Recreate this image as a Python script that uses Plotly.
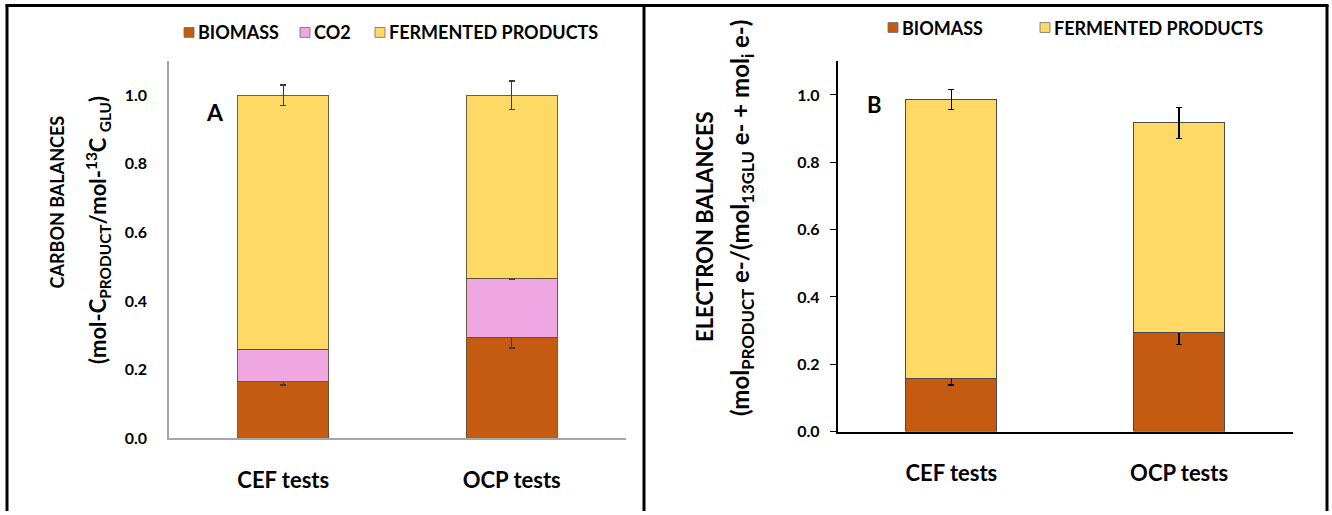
import plotly.graph_objects as go

W, H = 1332, 515

categories = ["CEF tests", "OCP tests"]

# Panel A: carbon balances (stacked segments) and their standard deviations
carbon_biomass = [0.165, 0.294]
carbon_biomass_err = [0.010, 0.031]
carbon_co2 = [0.095, 0.172]
carbon_co2_err = [0.002, 0.002]
carbon_fermented = [0.740, 0.534]
carbon_fermented_err = [0.030, 0.041]

# Panel B: electron balances
electron_biomass = [0.159, 0.295]
electron_biomass_err = [0.020, 0.036]
electron_fermented = [0.828, 0.622]
electron_fermented_err = [0.030, 0.046]

y_ticks = [0.0, 0.2, 0.4, 0.6, 0.8, 1.0]

C_BIOMASS = "#C55A11"
C_CO2 = "#EFA7E2"
C_FERM = "#FFD966"
FONT = "Lato"


def px_x(x):
    return x / W


def px_y(y):
    return 1 - y / H


fig = go.Figure()


def add_bar(name, vals, errs, color, xa, ya, edge, errcolor):
    fig.add_trace(go.Bar(
        x=categories, y=vals, name=name, xaxis=xa, yaxis=ya,
        marker=dict(color=color, line=dict(color=edge, width=1)),
        width=0.4, showlegend=False,
        error_y=dict(type="data", array=errs, visible=True,
                     color=errcolor, thickness=1.4, width=3),
    ))


edge_a = "rgba(95,80,55,0.9)"
err_a = "#3a3a3a"
add_bar("BIOMASS", carbon_biomass, carbon_biomass_err, C_BIOMASS, "x", "y", edge_a, err_a)
add_bar("CO2", carbon_co2, carbon_co2_err, C_CO2, "x", "y", edge_a, err_a)
add_bar("FERMENTED PRODUCTS", carbon_fermented, carbon_fermented_err, C_FERM, "x", "y", edge_a, err_a)

edge_b = "#4a4a4a"
add_bar("BIOMASS", electron_biomass, electron_biomass_err, C_BIOMASS, "x2", "y2", edge_b, "#000000")
add_bar("FERMENTED PRODUCTS", electron_fermented, electron_fermented_err, C_FERM, "x2", "y2", edge_b, "#000000")

tick_font = dict(family=FONT, size=16, color="#000000", weight="bold")
cat_font = dict(family=FONT, size=22, color="#000000", weight="bold")

fig.update_layout(
    width=W, height=H, margin=dict(l=0, r=0, t=0, b=0),
    paper_bgcolor="white", plot_bgcolor="white",
    barmode="stack", showlegend=False,
    xaxis=dict(domain=[px_x(169), px_x(626)], range=[-0.5, 1.5], anchor="y",
               showline=True, linecolor="#A6A6A6", linewidth=1.5, ticks="",
               showgrid=False, zeroline=False, tickfont=cat_font, ticklabelstandoff=22),
    yaxis=dict(domain=[px_y(446), px_y(62)], range=[0, 1.1], anchor="x",
               showline=True, linecolor="#A6A6A6", linewidth=1.5, ticks="",
               tickvals=y_ticks, tickformat=".1f", showgrid=False, zeroline=False,
               tickfont=tick_font, ticklabelstandoff=17),
    xaxis2=dict(domain=[px_x(837.5), px_x(1293)], range=[-0.5, 1.5], anchor="y2",
                showline=True, linecolor="#000000", linewidth=1.5, ticks="",
                showgrid=False, zeroline=False, tickfont=cat_font, ticklabelstandoff=21),
    yaxis2=dict(domain=[px_y(439.3), px_y(62.4)], range=[0, 1.1], anchor="x2",
                showline=True, linecolor="#000000", linewidth=1.5,
                ticks="outside", ticklen=6, tickcolor="#000000", tickwidth=1.2,
                tickvals=y_ticks, tickformat=".1f", showgrid=False, zeroline=False,
                tickfont=tick_font, ticklabelstandoff=7),
)

# Panel frames
frame = dict(type="line", xref="paper", yref="paper", line=dict(color="black", width=3))
shapes = [
    dict(frame, x0=px_x(7), x1=px_x(7), y0=px_y(5), y1=px_y(520)),
    dict(frame, x0=px_x(644), x1=px_x(644), y0=px_y(5), y1=px_y(520)),
    dict(frame, x0=px_x(1327), x1=px_x(1327), y0=px_y(5), y1=px_y(520)),
    dict(frame, x0=px_x(5.5), x1=px_x(1328.5), y0=px_y(5.5), y1=px_y(5.5)),
]

annotations = []


def legend_item(x_swatch, y_center, color, label):
    shapes.append(dict(type="rect", xref="paper", yref="paper",
                       x0=px_x(x_swatch), x1=px_x(x_swatch + 10),
                       y0=px_y(y_center + 5), y1=px_y(y_center - 5),
                       fillcolor=color, line=dict(color="#6b6b6b", width=0.8)))
    annotations.append(dict(x=px_x(x_swatch + 12), y=px_y(y_center), xref="paper", yref="paper",
                            text=label, showarrow=False, xanchor="left", yanchor="middle",
                            font=dict(family=FONT, size=18, color="#000000", weight="bold")))


legend_item(184, 33, C_BIOMASS, "BIOMASS")
legend_item(300, 33, C_CO2, "CO2")
legend_item(375, 33, C_FERM, "FERMENTED PRODUCTS")
legend_item(888, 28, C_BIOMASS, "BIOMASS")
legend_item(1040, 28, C_FERM, "FERMENTED PRODUCTS")

# Panel letters
annotations.append(dict(x=px_x(204), y=px_y(98), xref="paper", yref="paper", text="A",
                        showarrow=False, font=dict(family=FONT, size=23, weight="bold", color="#000")))
annotations.append(dict(x=px_x(874), y=px_y(91), xref="paper", yref="paper", text="B",
                        showarrow=False, font=dict(family=FONT, size=22, weight="bold", color="#000")))

# Axis titles
annotations += [
    dict(x=px_x(44), y=px_y(206), xref="paper", yref="paper", text="CARBON BALANCES",
         textangle=-90, showarrow=False,
         font=dict(family=FONT, size=18, weight="bold", color="#000")),
    dict(x=px_x(80), y=px_y(234), xref="paper", yref="paper",
         text="(mol-C<sub>PRODUCT</sub>/mol-<sup>13</sup>C <sub>GLU</sub>)",
         textangle=-90, showarrow=False,
         font=dict(family=FONT, size=22, weight="bold", color="#000")),
    dict(x=px_x(705), y=px_y(231), xref="paper", yref="paper", text="ELECTRON BALANCES",
         textangle=-90, showarrow=False,
         font=dict(family=FONT, size=22, weight="bold", color="#000")),
    dict(x=px_x(741), y=px_y(222), xref="paper", yref="paper",
         text="(mol<sub>PRODUCT</sub> e-/(mol<sub>13GLU</sub> e- + mol<sub>i</sub> e-)",
         textangle=-90, showarrow=False,
         font=dict(family=FONT, size=24, weight="bold", color="#000")),
]

fig.update_layout(shapes=shapes, annotations=annotations)
fig.write_html("out.html")
